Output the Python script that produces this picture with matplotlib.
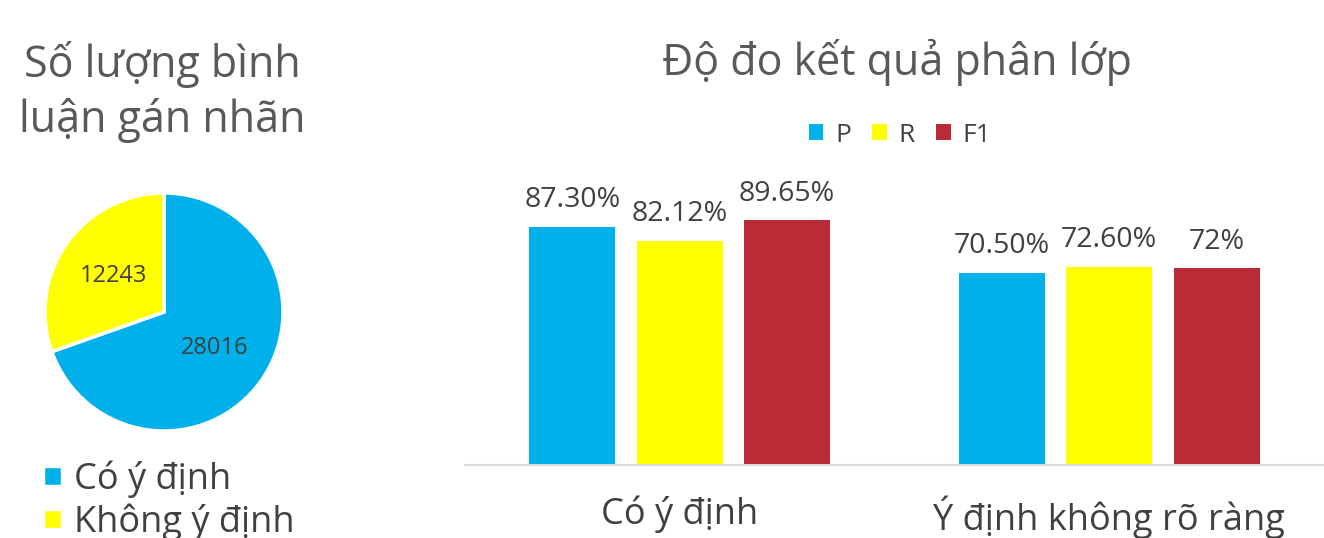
import matplotlib.pyplot as plt
import numpy as np

plt.rcParams['font.family'] = ['Open Sans', 'DejaVu Sans']

# pie data
pie_labels = ['Có ý định', 'Không ý định']
pie_counts = [28016, 12243]

# bar data
groups = ['Có ý định', 'Ý định không rõ ràng']
metrics = ['P', 'R', 'F1']
p_vals = [87.30, 70.50]
r_vals = [82.12, 72.60]
f1_vals = [89.65, 72.00]
p_text = ['87.30%', '70.50%']
r_text = ['82.12%', '72.60%']
f1_text = ['89.65%', '72%']

blue = '#00B0EA'
yellow = '#FFFF00'
red = '#BA2B37'
title_col = '#595959'
text_col = '#404040'

W, H = 1324, 538
fig = plt.figure(figsize=(W / 100, H / 100), dpi=100)

# ---- pie ----
cx, cy, r = 164, 312, 119
axp = fig.add_axes([(cx - r) / W, (H - cy - r) / H, 2 * r / W, 2 * r / H])
total = sum(pie_counts)
wedges, _, autotexts = axp.pie(
    pie_counts, colors=[blue, yellow], startangle=90, counterclock=False,
    autopct=lambda p: f'{round(p * total / 100)}', pctdistance=0.52,
    wedgeprops=dict(edgecolor='white', linewidth=2.5),
    textprops=dict(color=text_col, fontsize=17))
axp.set_xlim(-1.0, 1.0)
axp.set_ylim(-1.0, 1.0)

fig.text(162 / W, 1 - 92 / H, 'Số lượng bình\nluận gán nhãn', ha='center', va='center',
         fontsize=31, color=title_col, linespacing=1.27)

fig.legend(wedges, pie_labels, loc='upper left', bbox_to_anchor=(29 / W, 1 - 446 / H),
           frameon=False, fontsize=26, labelcolor=text_col, handlelength=0.5,
           handleheight=0.5, handletextpad=0.35, labelspacing=0.15, borderaxespad=0)

# ---- bars ----
axb = fig.add_axes([465 / W, 73 / H, 1 - 465 / W, 273 / H])
x = np.arange(len(groups))
w = 0.2
step = 0.25
for vals, txt, col, name, off in [(p_vals, p_text, blue, 'P', -step),
                                  (r_vals, r_text, yellow, 'R', 0),
                                  (f1_vals, f1_text, red, 'F1', step)]:
    bars = axb.bar(x + off, vals, w, color=col, label=name)
    axb.bar_label(bars, labels=txt, padding=9, fontsize=20.5, color=text_col)

axb.set_xlim(-0.5, 1.5)
axb.set_ylim(0, 100)
axb.set_xticks(x)
axb.set_xticklabels(groups, fontsize=26, color=text_col)
axb.tick_params(axis='x', length=0, pad=22)
axb.set_yticks([])
for s in ['top', 'right', 'left']:
    axb.spines[s].set_visible(False)
axb.spines['bottom'].set_color('#D9D9D9')
axb.spines['bottom'].set_linewidth(1.5)

fig.text(897 / W, 1 - 62 / H, 'Độ đo kết quả phân lớp', ha='center', va='center',
         fontsize=31, color=title_col)
axb.legend(loc='center', bbox_to_anchor=(900 / W, 1 - 135 / H), bbox_transform=fig.transFigure,
           ncol=3, frameon=False, fontsize=19, labelcolor=text_col, handlelength=0.55,
           handleheight=0.55, handletextpad=0.45, columnspacing=0.8)

fig.savefig('out.png', dpi=100)
